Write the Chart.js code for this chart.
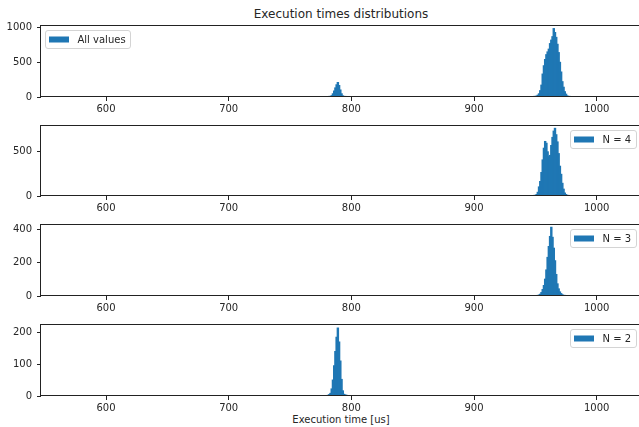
<!DOCTYPE html>
<html>
<head>
<meta charset="utf-8">
<script src="https://cdn.jsdelivr.net/npm/chart.js@4/dist/chart.umd.min.js"></script>
<style>
  html, body { margin: 0; padding: 0; background: #fff; overflow: hidden; width: 639px; height: 427px; }
  canvas { position: absolute; left: 0; }
  .lbl { position: absolute; font-family: "DejaVu Sans", sans-serif; color: #262626; white-space: nowrap; transform: translate(-50%, -50%); }
</style>
</head>
<body>
<div class="lbl" style="left:341px; top:14px; font-size:12px;">Execution times distributions</div>
<div class="lbl" style="left:341px; top:419px; font-size:10px;">Execution time [us]</div>
<canvas id="pAll"></canvas>
<canvas id="pN4"></canvas>
<canvas id="pN3"></canvas>
<canvas id="pN2"></canvas>
<script>
// Histogram counts, one value per 1 us bin; each block starts at the given bin centre.
const BIN_WIDTH = 1;

const allLowStart = 782;
const allLowCounts = [3, 6, 18, 45, 85, 130, 175, 208, 165, 100, 45, 15, 5, 2];
const allHighStart = 949;
const allHighCounts = [2, 5, 12, 25, 45, 90, 170, 330, 450, 540, 610, 650, 690, 770, 820,
                       870, 987, 930, 860, 760, 640, 500, 360, 220, 140, 75, 40, 15, 5, 2];

const n4Start = 949;
const n4Counts = [2, 6, 15, 40, 100, 160, 260, 400, 530, 605, 585, 490, 435, 450, 560,
                  650, 720, 751, 680, 600, 470, 330, 240, 140, 75, 32, 15, 6, 2];

const n3Start = 952;
const n3Counts = [2, 5, 10, 20, 38, 62, 100, 155, 230, 295, 355, 410, 350, 285, 210,
                  128, 72, 42, 24, 14, 7, 3, 1];

const n2Start = 781;
const n2Counts = [2, 4, 8, 22, 50, 95, 140, 185, 214, 170, 110, 52, 16, 5, 3, 2];

const xTickValues = [600, 700, 800, 900, 1000];
const yTicksAll = [0, 500, 1000];
const yTicksN4 = [0, 500];
const yTicksN3 = [0, 200, 400];
const yTicksN2 = [0, 100, 200];

const X_MIN = 547.0, X_MAX = 1035.3;
const BAR_COLOR = '#1f77b4';
const TEXT_COLOR = '#262626';
const FONT = '"DejaVu Sans", sans-serif';

function toPoints(start, counts) {
  return counts.map((c, i) => ({ x: start + i * BIN_WIDTH, y: c }));
}

// Frame around the plotting area (all four sides).
const frame = {
  id: 'frame',
  afterDatasetsDraw(chart) {
    const { ctx, chartArea: a } = chart;
    ctx.save();
    ctx.strokeStyle = '#222';
    ctx.lineWidth = 1;
    ctx.strokeRect(Math.round(a.left) - 0.5, Math.round(a.top) + 0.5,
                   Math.round(a.right - a.left) + 1, Math.round(a.bottom - a.top) - 1);
    ctx.restore();
  }
};

// Legend box placed inside the plot area in a top corner.
const insideLegend = {
  id: 'insideLegend',
  afterDraw(chart, args, opts) {
    if (!opts || !opts.side) return;
    const { ctx, chartArea: a } = chart;
    const ds = chart.data.datasets[0];
    ctx.save();
    ctx.font = '10px ' + FONT;
    const tw = ctx.measureText(ds.label).width;
    const w = Math.round(4 + 20 + 8.5 + tw + 4.5);
    const h = 18;
    const x = opts.side === 'left' ? Math.round(a.left) + 4 : Math.round(a.right) - 4 - w;
    const y = Math.round(a.top) + 5;
    ctx.beginPath();
    ctx.roundRect(x + 0.5, y + 0.5, w, h, 2.5);
    ctx.fillStyle = 'rgba(255,255,255,0.85)';
    ctx.fill();
    ctx.strokeStyle = '#d4d4d4';
    ctx.lineWidth = 1;
    ctx.stroke();
    ctx.fillStyle = ds.backgroundColor;
    ctx.fillRect(x + 4, y + 6.5, 20, 6);
    ctx.fillStyle = TEXT_COLOR;
    ctx.textBaseline = 'middle';
    ctx.fillText(ds.label, x + 32.5, y + 10);
    ctx.restore();
  }
};

// The y axis keeps half a label height plus its tick padding above the plot area.
const Y_TICK_PAD = 5;
const TOP_RESERVE = 6 + Y_TICK_PAD;

function makePanel(id, plotTop, plotHeight, label, points, yMax, yTicks, legendSide) {
  const xAxisH = 24, W = 642;
  const canvas = document.getElementById(id);
  const H = TOP_RESERVE + plotHeight + xAxisH;
  canvas.width = W;
  canvas.height = H;
  canvas.style.width = W + 'px';
  canvas.style.height = H + 'px';

  const tickFont = { family: FONT, size: 10 };
  const chart = new Chart(canvas, {
    type: 'bar',
    data: {
      datasets: [{
        label: label,
        data: points,
        backgroundColor: BAR_COLOR,
        borderWidth: 0,
        inflateAmount: 0.6,
        barPercentage: 1,
        categoryPercentage: 1
      }]
    },
    plugins: [frame, insideLegend],
    options: {
      responsive: false,
      animation: false,
      devicePixelRatio: 1,
      events: [],
      layout: { padding: { top: 0, left: 0, right: 2, bottom: 0 } },
      plugins: {
        legend: { display: false },
        tooltip: { enabled: false },
        title: { display: false },
        insideLegend: { side: legendSide }
      },
      scales: {
        x: {
          type: 'linear',
          offset: false,
          min: X_MIN,
          max: X_MAX,
          afterFit(s) { s.height = xAxisH; },
          afterBuildTicks(s) { s.ticks = xTickValues.map(v => ({ value: v })); },
          border: { display: false },
          grid: { offset: false, drawOnChartArea: false, drawTicks: true, tickLength: 4, color: '#222', lineWidth: 1 },
          ticks: { autoSkip: false, maxRotation: 0, padding: 2, color: TEXT_COLOR, font: tickFont,
                   callback: v => String(v) }
        },
        y: {
          min: 0,
          max: yMax,
          afterFit(s) { s.width = 41; },
          afterBuildTicks(s) { s.ticks = yTicks.map(v => ({ value: v })); },
          border: { display: false },
          grid: { drawOnChartArea: false, drawTicks: true, tickLength: 4, color: '#222', lineWidth: 1 },
          ticks: { autoSkip: false, padding: Y_TICK_PAD, color: TEXT_COLOR, font: tickFont,
                   callback: v => String(v) }
        }
      }
    }
  });

  // Place the plot area's top edge at plotTop.
  canvas.style.top = (plotTop - Math.round(chart.chartArea.top)) + 'px';
  return chart;
}

makePanel('pAll', 25, 72, 'All values',
          toPoints(allLowStart, allLowCounts).concat(toPoints(allHighStart, allHighCounts)),
          1040, yTicksAll, 'left');
makePanel('pN4', 125, 71, 'N = 4', toPoints(n4Start, n4Counts), 789, yTicksN4, 'right');
makePanel('pN3', 224, 72, 'N = 3', toPoints(n3Start, n3Counts), 430, yTicksN3, 'right');
makePanel('pN2', 324, 72, 'N = 2', toPoints(n2Start, n2Counts), 227, yTicksN2, 'right');
</script>
</body>
</html>
